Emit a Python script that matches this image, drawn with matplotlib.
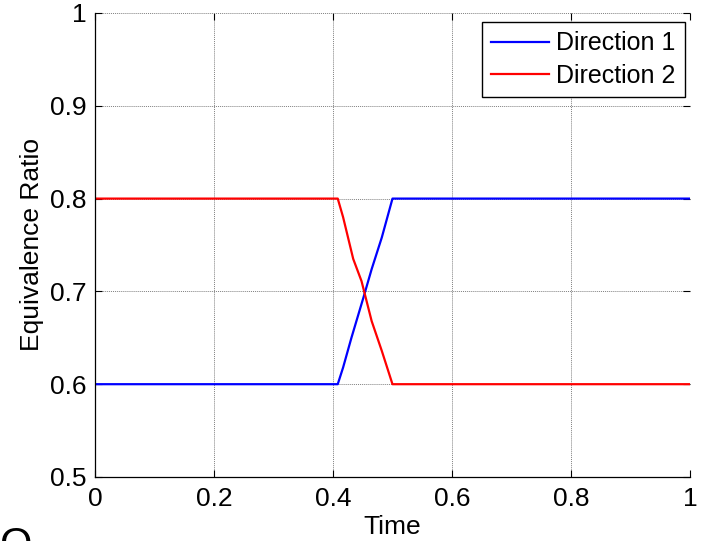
import matplotlib
matplotlib.use("Agg")
import matplotlib.pyplot as plt
import numpy as np

plt.rcParams['font.family'] = ['Liberation Sans', 'DejaVu Sans']

# data
t1 = [0.0, 0.408, 0.417, 0.431, 0.451, 0.465, 0.482, 0.5, 1.0]
dir1 = [0.6, 0.6, 0.618, 0.650, 0.693, 0.724, 0.758, 0.8, 0.8]
t2 = [0.0, 0.408, 0.417, 0.434, 0.448, 0.465, 0.482, 0.5, 1.0]
dir2 = [0.8, 0.8, 0.780, 0.735, 0.711, 0.668, 0.636, 0.6, 0.6]

xticks = [0, 0.2, 0.4, 0.6, 0.8, 1]
yticks = [0.5, 0.6, 0.7, 0.8, 0.9, 1]

fig = plt.figure(figsize=(7.03, 5.41), dpi=100)
ax = fig.add_axes([0.1351, 0.1183, 0.8464, 0.8577])

ax.plot(t1, dir1, color='#0000ff', lw=1.6, label='Direction 1')
ax.plot(t2, dir2, color='#ff0000', lw=1.6, label='Direction 2')

ax.set_xlim(0, 1)
ax.set_ylim(0.5, 1)
ax.set_xticks(xticks)
ax.set_xticklabels(['0', '0.2', '0.4', '0.6', '0.8', '1'])
ax.set_yticks(yticks)
ax.set_yticklabels(['0.5', '0.6', '0.7', '0.8', '0.9', '1'])
ax.tick_params(direction='in', length=5, width=0.8, labelsize=19,
               top=True, right=True)
ax.tick_params(axis='x', pad=7)
ax.tick_params(axis='y', pad=6)
ax.grid(True, color='#808080', linestyle=(0, (1, 1)), linewidth=0.7)
for s in ['top', 'right']:
    ax.spines[s].set_visible(False)
for s in ['left', 'bottom']:
    ax.spines[s].set_linewidth(0.9)

ax.set_xlabel('Time', fontsize=19, labelpad=3)
ax.set_ylabel('Equivalence Ratio', fontsize=19, labelpad=4)

leg = ax.legend(loc='upper right', fontsize=18, frameon=True, fancybox=False,
                edgecolor='black', framealpha=1, borderpad=0.38,
                handlelength=2.3, handletextpad=0.3, labelspacing=0.33,
                borderaxespad=0, bbox_to_anchor=(0.9916, 0.9806))
leg.get_frame().set_linewidth(1.0)

fig.text(0.0, 0.028, 'O', fontsize=30, ha='left', va='top')

fig.savefig('out.png', dpi=100)
